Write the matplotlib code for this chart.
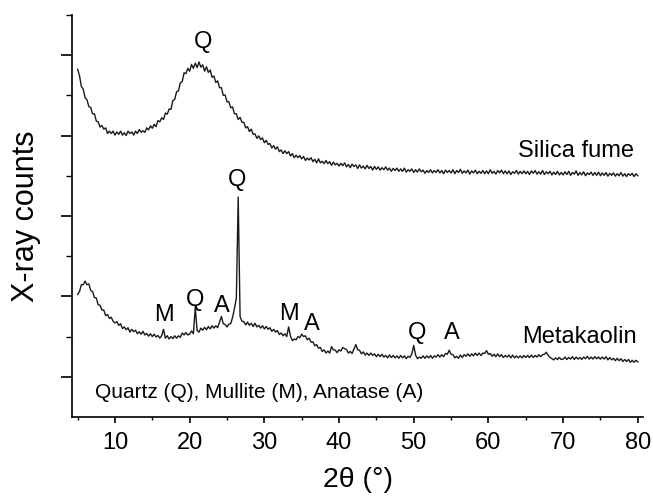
import numpy as np
import matplotlib.pyplot as plt
from matplotlib.ticker import FixedLocator

plt.rcParams['font.family'] = ['Liberation Sans', 'DejaVu Sans']

# 2-theta grid of the scans (0.25 deg step, 5-80 deg)
two_theta = np.arange(5.0, 80.001, 0.25)

# silica fume pattern, offset upwards (arb. units)
silica_fume = [
    8.65, 8.49, 8.22, 8.15, 7.94, 7.89, 7.72, 7.70, 7.54, 7.54, 7.36, 7.34, 7.21, 7.25, 7.16, 7.19, 7.05, 7.11, 7.05, 7.11,
    7.01, 7.09, 7.03, 7.11, 7.01, 7.07, 7.00, 7.11, 7.05, 7.09, 7.01, 7.11, 7.05, 7.15, 7.08, 7.12, 7.08, 7.19, 7.14, 7.24,
    7.18, 7.28, 7.22, 7.37, 7.34, 7.44, 7.40, 7.56, 7.53, 7.66, 7.65, 7.87, 7.90, 8.09, 8.11, 8.31, 8.34, 8.56, 8.54, 8.67,
    8.60, 8.77, 8.67, 8.80, 8.69, 8.83, 8.70, 8.76, 8.60, 8.71, 8.57, 8.63, 8.45, 8.48, 8.32, 8.36, 8.19, 8.19, 8.00, 8.01,
    7.84, 7.84, 7.69, 7.71, 7.54, 7.54, 7.40, 7.45, 7.33, 7.33, 7.19, 7.22, 7.10, 7.16, 7.03, 7.04, 6.93, 6.99, 6.90, 6.94,
    6.82, 6.88, 6.78, 6.80, 6.69, 6.75, 6.66, 6.72, 6.60, 6.64, 6.55, 6.62, 6.55, 6.60, 6.49, 6.55, 6.45, 6.51, 6.45, 6.50,
    6.42, 6.48, 6.38, 6.44, 6.39, 6.45, 6.35, 6.41, 6.32, 6.42, 6.32, 6.36, 6.30, 6.38, 6.30, 6.35, 6.26, 6.34, 6.27, 6.31,
    6.24, 6.31, 6.25, 6.32, 6.22, 6.28, 6.20, 6.29, 6.23, 6.27, 6.18, 6.27, 6.19, 6.24, 6.17, 6.26, 6.18, 6.23, 6.14, 6.23,
    6.16, 6.22, 6.14, 6.20, 6.15, 6.22, 6.14, 6.19, 6.11, 6.18, 6.13, 6.19, 6.11, 6.17, 6.11, 6.19, 6.09, 6.15, 6.11, 6.17,
    6.08, 6.15, 6.09, 6.17, 6.10, 6.14, 6.06, 6.13, 6.08, 6.15, 6.07, 6.13, 6.08, 6.15, 6.07, 6.13, 6.05, 6.14, 6.08, 6.13,
    6.07, 6.15, 6.05, 6.13, 6.08, 6.16, 6.06, 6.12, 6.07, 6.14, 6.04, 6.12, 6.07, 6.14, 6.05, 6.11, 6.06, 6.13, 6.05, 6.12,
    6.05, 6.15, 6.06, 6.11, 6.04, 6.13, 6.07, 6.14, 6.05, 6.12, 6.05, 6.12, 6.03, 6.10, 6.06, 6.13, 6.04, 6.11, 6.05, 6.12,
    6.05, 6.11, 6.03, 6.12, 6.06, 6.13, 6.04, 6.10, 6.04, 6.13, 6.03, 6.10, 6.05, 6.11, 6.02, 6.09, 6.03, 6.11, 6.02, 6.08,
    6.02, 6.10, 6.03, 6.11, 6.01, 6.08, 6.04, 6.12, 6.01, 6.08, 6.02, 6.10, 6.00, 6.07, 6.03, 6.09, 6.01, 6.08, 6.01, 6.09,
    6.00, 6.07, 6.01, 6.08, 5.99, 6.06, 6.01, 6.07, 5.99, 6.05, 6.00, 6.08, 5.99, 6.05, 5.98, 6.05, 6.01, 6.06, 5.98, 6.05,
    6.00,
]

# metakaolin pattern (arb. units)
metakaolin = [
    3.05, 3.12, 3.29, 3.29, 3.38, 3.29, 3.31, 3.15, 3.12, 2.97, 2.96, 2.79, 2.78, 2.66, 2.66, 2.52, 2.55, 2.45, 2.48, 2.38,
    2.34, 2.37, 2.28, 2.32, 2.20, 2.24, 2.17, 2.22, 2.11, 2.18, 2.12, 2.16, 2.07, 2.12, 2.06, 2.13, 2.04, 2.08, 2.01, 2.07,
    2.00, 2.06, 1.99, 2.03, 1.96, 2.02, 2.18, 1.96, 2.02, 1.94, 2.00, 1.95, 2.02, 1.96, 2.02, 1.98, 2.09, 2.04, 2.10, 2.04,
    2.06, 2.14, 2.07, 2.72, 2.15, 2.11, 2.21, 2.16, 2.23, 2.17, 2.25, 2.19, 2.27, 2.21, 2.27, 2.22, 2.36, 2.50, 2.32, 2.30,
    2.24, 2.31, 2.32, 2.48, 2.70, 2.95, 5.47, 2.50, 2.38, 2.37, 2.29, 2.36, 2.28, 2.33, 2.25, 2.33, 2.24, 2.28, 2.21, 2.27,
    2.19, 2.25, 2.18, 2.22, 2.13, 2.18, 2.11, 2.15, 2.05, 2.09, 2.02, 2.07, 2.00, 2.24, 2.01, 1.90, 1.94, 1.92, 2.00, 1.97,
    2.06, 2.00, 2.02, 1.92, 1.96, 1.86, 1.87, 1.77, 1.80, 1.71, 1.73, 1.63, 1.67, 1.59, 1.64, 1.59, 1.75, 1.67, 1.66, 1.60,
    1.67, 1.64, 1.73, 1.70, 1.68, 1.59, 1.63, 1.58, 1.69, 1.80, 1.67, 1.66, 1.57, 1.62, 1.54, 1.59, 1.53, 1.59, 1.53, 1.57,
    1.50, 1.56, 1.50, 1.56, 1.49, 1.53, 1.47, 1.54, 1.48, 1.53, 1.47, 1.52, 1.46, 1.53, 1.47, 1.52, 1.45, 1.51, 1.48, 1.57,
    1.78, 1.54, 1.45, 1.49, 1.46, 1.52, 1.46, 1.52, 1.47, 1.53, 1.46, 1.52, 1.49, 1.55, 1.49, 1.55, 1.50, 1.58, 1.56, 1.66,
    1.56, 1.55, 1.47, 1.51, 1.46, 1.54, 1.48, 1.55, 1.51, 1.57, 1.51, 1.57, 1.52, 1.59, 1.53, 1.59, 1.53, 1.59, 1.58, 1.65,
    1.56, 1.58, 1.51, 1.56, 1.50, 1.57, 1.50, 1.55, 1.48, 1.53, 1.49, 1.54, 1.47, 1.54, 1.47, 1.52, 1.47, 1.52, 1.47, 1.53,
    1.48, 1.53, 1.48, 1.54, 1.48, 1.53, 1.49, 1.55, 1.50, 1.55, 1.56, 1.61, 1.53, 1.48, 1.45, 1.42, 1.47, 1.43, 1.48, 1.43,
    1.44, 1.49, 1.43, 1.48, 1.44, 1.50, 1.43, 1.49, 1.44, 1.48, 1.43, 1.49, 1.45, 1.51, 1.44, 1.49, 1.44, 1.50, 1.45, 1.49,
    1.44, 1.49, 1.44, 1.50, 1.42, 1.48, 1.42, 1.46, 1.40, 1.46, 1.40, 1.45, 1.38, 1.43, 1.38, 1.43, 1.36, 1.41, 1.36, 1.41,
    1.37,
]

# phase labels: (text, 2theta, height)
peak_labels = [
    ('Q', 21.8, 9.33),
    ('Q', 26.4, 5.90),
    ('M', 16.55, 2.54),
    ('Q', 20.7, 2.91),
    ('A', 24.25, 2.76),
    ('M', 33.25, 2.56),
    ('A', 36.3, 2.31),
    ('Q', 50.45, 2.09),
    ('A', 55.05, 2.09),
]

fig = plt.figure(figsize=(6.53, 4.97), dpi=100)
ax = fig.add_axes([0.1103, 0.161, 0.8744, 0.809])

ax.plot(two_theta, silica_fume, color='#1a1a1a', lw=1.0)
ax.plot(two_theta, metakaolin, color='#1a1a1a', lw=1.0)

for txt, x, y in peak_labels:
    ax.text(x, y, txt, ha='center', va='center', fontsize=17)

ax.text(79.5, 6.62, 'Silica fume', ha='right', va='center', fontsize=17)
ax.text(79.9, 1.99, 'Metakaolin', ha='right', va='center', fontsize=17)
ax.text(7.33, 0.62, 'Quartz (Q), Mullite (M), Anatase (A)', ha='left', va='center', fontsize=15)

ax.set_xlim(4.25, 80.7)
ax.set_ylim(0, 10)
ax.spines['top'].set_visible(False)
ax.spines['right'].set_visible(False)
ax.spines['left'].set_linewidth(1.2)
ax.spines['bottom'].set_linewidth(1.2)

ax.xaxis.set_major_locator(FixedLocator(range(10, 81, 10)))
ax.xaxis.set_minor_locator(FixedLocator(range(5, 80, 10)))
ax.yaxis.set_major_locator(FixedLocator([1, 3, 5, 7, 9]))
ax.yaxis.set_minor_locator(FixedLocator([2, 4, 6, 8, 10]))
ax.set_yticklabels([])
ax.tick_params(axis='x', which='major', direction='out', length=4.5, width=1.2, labelsize=17, pad=6)
ax.tick_params(axis='x', which='minor', direction='out', length=2.5, width=1.0)
ax.tick_params(axis='y', which='major', direction='out', length=8, width=1.2)
ax.tick_params(axis='y', which='minor', direction='out', length=4, width=1.0)

fig.text(0.548, 0.034, '2\u03b8 (\u00b0)', ha='center', va='center', fontsize=20.5)
fig.text(0.040, 0.565, 'X-ray counts', ha='center', va='center', rotation=90, fontsize=22)

fig.savefig('out.png', dpi=100)
